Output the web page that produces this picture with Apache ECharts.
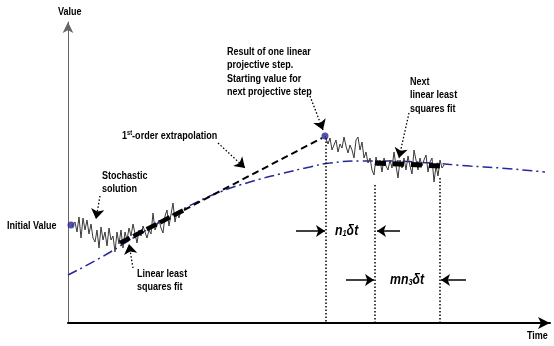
<!DOCTYPE html>
<html><head><meta charset="utf-8">
<script src="https://cdn.jsdelivr.net/npm/echarts@6/dist/echarts.min.js"></script>
<style>html,body{margin:0;padding:0;background:#fff}#c{width:554px;height:346px}</style>
</head><body><div id="c"></div><script>
// Axis ranges (arbitrary schematic units: time, value)
const timeRange = [0, 482];
const valueRange = [0, 301];

// Smooth (deterministic) solution, blue dash-dot curve
const trendCurve = [[0,48],[32,65],[62,83],[92,101],[119,116],[152,131],[182,141],[212,149],[242,156],[262,160],[292,162],[322,162],[362,160],[402,157],[432,155],[477,151]];

// Stochastic solution, first burst
const stochastic1 = [[4,97],[7,101],[9,91],[11,106],[13,85],[15,105],[17,93],[19,103],[21,89],[23,99],[25,85],[27,81],[29,93],[31,75],[33,96],[35,83],[37,91],[39,77],[41,95],[43,83],[45,87],[47,71],[49,91],[51,79],[53,93],[55,75],[57,91],[59,83],[61,95],[63,87],[65,99],[67,101],[69,80],[71,93],[73,87],[75,97],[77,98],[79,85],[81,93],[83,89],[85,110],[87,93],[89,91],[91,103],[93,95],[95,90],[97,107],[99,113],[101,97],[103,96],[105,120],[107,101],[109,111],[111,105],[113,113],[115,111]];

// Stochastic solution, second burst
const stochastic2 = [[257,187],[260,179],[262,185],[264,173],[266,178],[268,183],[270,171],[272,179],[274,175],[276,186],[278,177],[280,170],[282,178],[284,173],[286,165],[288,183],[290,186],[292,173],[294,181],[296,165],[298,171],[300,160],[302,165],[304,153],[306,148],[308,166],[310,157],[312,163],[314,151],[316,165],[318,157],[320,153],[322,163],[324,155],[326,171],[328,157],[330,145],[332,163],[334,155],[336,165],[338,153],[340,167],[342,157],[344,149],[346,173],[348,175],[350,153],[352,165],[354,157],[356,163],[358,168],[360,151],[362,161],[364,165],[366,141],[368,157],[370,147],[372,163],[374,155],[376,158]];

// Linear least squares fits and extrapolation
const fit1 = [[52,80],[118,114]];
const extrapolation = [[116,113],[254,185]];
const fit2 = [[307,160],[374,157]];

// Marked points
const initialValue = [[3,98]];
const projectedValue = [[257,187]];

// Vertical step markers (time positions)
const stepTimes = [258, 307, 372];
const stepTops = [185, 138, 145];

// Interval arrows: [from, to] in (time,value)
const intervalArrows = [
  [[228,92],[257,92]], [[332,92],[309,92]],
  [[278,43],[306,43]], [[398,43],[373,43]]
];

// Annotation leaders: [from, to]
const leaders = [
  [[32,127],[28,104]],
  [[65,55],[61,79]],
  [[150,180],[177,155]],
  [[242,227],[255,193]],
  [[341,210],[331,165]]
];

const FONT_FAM = '"Liberation Sans",Arial,sans-serif';
const F = 'bold 11px ' + FONT_FAM;
const SX = 0.82;
const BLUE = '#27279a';

const chart = echarts.init(document.getElementById('c'), null, {renderer:'canvas'});

function txt(text, x, y) {
  return {type:'text', x:x, y:y, scaleX:SX, silent:true,
    style:{text:text, font:F, fill:'#000', verticalAlign:'top', lineHeight:13.5}};
}

const series = [
  {type:'line', data:trendCurve, smooth:true, symbol:'none',
   lineStyle:{color:BLUE, width:1.5, type:[10,4,2,4]}, z:2},
  {type:'line', data:stochastic1, symbol:'none', lineStyle:{color:'#3a3a3a', width:1}, z:3},
  {type:'line', data:stochastic2, symbol:'none', lineStyle:{color:'#3a3a3a', width:1}, z:3},
  {type:'line', data:extrapolation, symbol:'none', lineStyle:{color:'#000', width:2, type:[7,4]}, z:4},
  {type:'line', data:fit1, symbol:'none', lineStyle:{color:'#000', width:4.5, type:[11,4]}, z:5},
  {type:'line', data:fit2, symbol:'none', lineStyle:{color:'#000', width:5, type:[11,7]}, z:5},
  {type:'scatter', data:initialValue.concat(projectedValue), symbolSize:7, itemStyle:{color:BLUE}, z:6},
  {type:'lines', coordinateSystem:'cartesian2d', z:4, silent:true,
   data: stepTimes.map((t,i)=>({coords:[[t,stepTops[i]],[t, i===2 ? -4 : 0]]})),
   lineStyle:{color:'#000', width:1.5, type:[1.5,2], opacity:1}, symbol:'none'},
  {type:'lines', coordinateSystem:'cartesian2d', z:4, silent:true,
   data: intervalArrows.map(c=>({coords:c})),
   lineStyle:{color:'#000', width:1.5, opacity:1}, symbol:['none','arrow'], symbolSize:9},
  {type:'lines', coordinateSystem:'cartesian2d', z:4, silent:true,
   data: leaders.map(c=>({coords:c})),
   lineStyle:{color:'#000', width:1.3, type:[1.5,2], opacity:1}, symbol:['none','arrow'], symbolSize:10}
];

const sub = (main, s, x, y) => ({type:'text', x:x, y:y, scaleX:SX, silent:true, style:{
  text:'{i|' + main + '}{b|' + s + '}{i|δt}', verticalAlign:'top',
  rich:{i:{font:'italic bold 15px '+FONT_FAM, fill:'#000'},
        b:{font:'italic bold 9px '+FONT_FAM, fill:'#000', verticalAlign:'bottom'}}}});

chart.setOption({
  animation:false,
  backgroundColor:'#fff',
  grid:{left:68, right:4, top:22, bottom:23, containLabel:false},
  xAxis:{type:'value', min:timeRange[0], max:timeRange[1], splitLine:{show:false},
    axisTick:{show:false}, axisLabel:{show:false},
    axisLine:{onZero:false, lineStyle:{color:'#000', width:2}, symbol:['none','arrow'], symbolSize:[9,12]}},
  yAxis:{type:'value', min:valueRange[0], max:valueRange[1], splitLine:{show:false},
    axisTick:{show:false}, axisLabel:{show:false},
    axisLine:{onZero:false, lineStyle:{color:'#666', width:1}, symbol:['none','arrow'], symbolSize:[8,11]}},
  series: series,
  graphic: [
    txt('Value', 58, 5),
    txt('Time', 527, 329),
    txt('Initial Value', 7, 219),
    txt('Stochastic\nsolution', 102, 169),
    txt('Linear least\nsquares fit', 137, 267),
    {type:'text', x:122, y:130, scaleX:SX, silent:true, style:{
      text:'{n|1}{s|st}{n|-order extrapolation}', verticalAlign:'top',
      rich:{n:{font:F, fill:'#000'}, s:{font:'bold 7px '+FONT_FAM, fill:'#000', verticalAlign:'top'}}}},
    txt('Result of one linear\nprojective step.\nStarting value for\nnext projective step', 227, 45),
    txt('Next\nlinear least\nsquares fit', 410, 75),
    sub('n', '1', 335, 223),
    sub('mn', '3', 390, 272)
  ]
});
</script></body></html>
